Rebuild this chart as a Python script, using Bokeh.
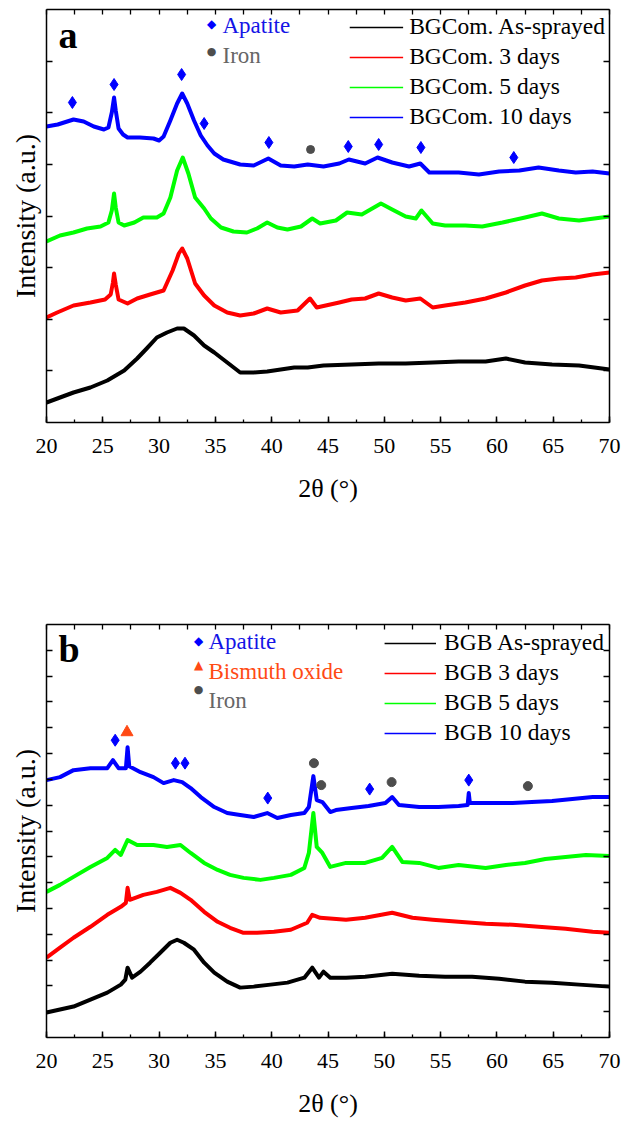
from bokeh.plotting import figure
from bokeh.models import (Range1d, LinearAxis, FixedTicker, SingleIntervalTicker,
                          Legend, LegendItem, Label)
from bokeh.layouts import column
from bokeh.embed import file_html
from bokeh.resources import INLINE

# ---------------- data (2theta in degrees, intensity in arbitrary units) ----------------
# Panel a : BGCom.
a0_x = [20.0, 21.2, 22.4, 23.9, 25.4, 26.9, 28.05, 28.9, 29.8, 30.7, 31.6, 32.2, 33.1, 34.0, 34.9,
        36.05, 37.2, 38.4, 39.6, 40.8, 42.0, 43.2, 44.6, 47.1, 49.5, 51.9, 54.3, 56.6, 59.0, 60.8,
        62.5, 64.9, 67.3, 70.0]
a0_y = [20, 25, 30, 35, 42, 52, 64, 74, 85, 90, 94, 94, 87, 77, 70,
        60, 50, 50, 51, 53, 55, 55, 57, 58, 59, 59, 60, 61, 61, 64,
        60, 58, 57, 53]

a3_x = [20.0, 20.95, 22.4, 23.9, 25.2, 25.7, 25.9, 26.0, 26.15, 26.4, 27.2, 28.05, 29.2, 30.4, 31.2,
        31.75, 32.05, 32.5, 33.2, 34.0, 34.9, 36.05, 37.2, 38.4, 39.6, 40.8, 42.3, 43.4, 44.0, 46.0,
        47.1, 48.3, 49.5, 50.7, 51.9, 53.2, 54.3, 55.4, 57.2, 59.0, 60.8, 62.5, 64.0, 65.5, 67.0,
        68.5, 70.0]
a3_y = [105, 110, 117, 120, 123, 128, 140, 149, 138, 123, 119, 124, 128, 132, 152,
        169, 174, 164, 139, 127, 117, 110, 107, 109, 114, 110, 112, 124, 115, 120,
        123, 124, 129, 125, 122, 124, 115, 117, 120, 124, 130, 137, 142, 144, 145,
        148, 150]

a5_x = [20.0, 21.2, 22.4, 23.6, 24.8, 25.5, 25.8, 26.0, 26.15, 26.4, 26.9, 27.8, 28.6, 29.8, 30.4,
        31.0, 31.6, 32.1, 32.6, 33.2, 34.0, 34.6, 35.5, 36.6, 37.8, 38.7, 39.6, 40.5, 41.4, 42.6,
        43.6, 44.3, 45.7, 46.7, 48.0, 49.7, 50.7, 51.9, 52.8, 53.3, 54.3, 55.4, 57.2, 58.7, 60.5,
        62.5, 64.0, 65.5, 67.3, 70.0]
a5_y = [181, 187, 190, 194, 196, 200, 212, 229, 215, 200, 197, 200, 205, 205, 209,
        225, 252, 265, 249, 225, 214, 204, 195, 191, 190, 194, 200, 195, 193, 196,
        204, 199, 202, 210, 208, 219, 213, 206, 204, 212, 199, 197, 197, 196, 200,
        205, 209, 204, 202, 206]

a10_x = [20.0, 21.0, 22.4, 23.3, 24.2, 25.1, 25.5, 25.8, 26.0, 26.15, 26.4, 26.8, 27.2, 28.3, 29.5,
         30.0, 30.4, 31.0, 31.6, 32.05, 32.5, 33.1, 33.7, 34.3, 34.9, 35.7, 37.2, 38.4, 39.7, 40.8,
         42.0, 43.2, 44.6, 46.0, 46.85, 48.3, 49.4, 50.7, 52.2, 53.2, 54.0, 55.1, 56.6, 58.4, 60.2,
         62.0, 63.7, 65.5, 67.0, 68.5, 70.0]
a10_y = [296, 298, 303, 301, 296, 293, 295, 310, 325, 312, 294, 288, 285, 285, 284,
         282, 286, 302, 319, 329, 319, 302, 287, 277, 269, 263, 258, 257, 264, 257,
         256, 258, 256, 259, 263, 259, 265, 260, 256, 259, 250, 250, 250, 248, 251,
         252, 255, 252, 250, 251, 249]

# phase markers, panel a
a_apatite_x = [22.3, 26.0, 32.0, 34.0, 39.75, 46.8, 49.5, 53.25, 61.5]
a_apatite_y = [320, 338, 348, 299, 280, 276, 278, 275, 265]
a_iron_x = [43.45]
a_iron_y = [273]

# Panel b : BGB
b0_x = [20.0, 21.2, 22.4, 23.9, 25.4, 26.6, 27.0, 27.2, 27.6, 28.35, 29.2, 30.1, 31.0, 31.6, 32.2,
        33.1, 34.0, 34.9, 36.05, 37.2, 38.4, 39.9, 41.4, 42.9, 43.6, 44.2, 44.6, 45.2, 46.6, 48.3,
        50.7, 53.1, 55.4, 57.8, 60.2, 62.5, 64.9, 67.3, 70.0]
b0_y = [25, 28, 31, 38, 45, 53, 58, 70, 60, 66, 75, 85, 95, 98, 95,
        88, 75, 65, 56, 50, 51, 53, 55, 60, 70, 60, 66, 60, 60, 61,
        64, 62, 61, 61, 59, 56, 55, 53, 51]

b3_x = [20.0, 21.2, 22.4, 23.9, 25.4, 26.6, 27.05, 27.2, 27.4, 28.6, 29.8, 31.0, 31.9, 32.8, 34.0,
        35.2, 36.3, 37.5, 38.7, 40.2, 41.7, 43.15, 43.6, 44.3, 46.6, 48.3, 50.7, 52.5, 54.3, 56.6,
        59.0, 61.4, 63.7, 66.1, 68.5, 70.0]
b3_y = [80, 90, 100, 111, 123, 131, 135, 150, 138, 143, 146, 150, 145, 138, 126,
        116, 110, 105, 105, 106, 108, 115, 123, 120, 118, 120, 125, 120, 118, 116,
        114, 113, 111, 109, 106, 105]

b5_x = [20.0, 21.2, 22.4, 23.9, 25.4, 26.1, 26.6, 27.2, 28.05, 29.5, 30.7, 31.9, 32.8, 34.0, 35.2,
        36.3, 37.5, 39.0, 40.2, 41.7, 42.9, 43.3, 43.7, 44.0, 44.5, 45.2, 46.6, 48.3, 49.8, 50.7,
        51.6, 53.1, 54.8, 56.6, 59.0, 60.8, 62.5, 64.3, 66.1, 67.9, 70.0]
b5_y = [146, 153, 161, 171, 180, 188, 183, 198, 193, 193, 191, 193, 185, 175, 168,
        163, 160, 158, 160, 163, 170, 185, 225, 191, 185, 171, 175, 175, 180, 191,
        176, 175, 170, 173, 170, 173, 175, 179, 181, 183, 182]

b10_x = [20.0, 21.2, 22.4, 23.9, 25.4, 25.9, 26.4, 27.05, 27.2, 27.35, 28.35, 29.5, 30.4, 31.3, 32.05,
         32.8, 33.7, 34.9, 36.05, 37.2, 38.4, 39.6, 40.5, 41.7, 42.9, 43.3, 43.7, 44.0, 44.5, 45.2,
         45.7, 47.1, 48.6, 50.1, 50.7, 51.3, 53.1, 54.8, 56.6, 57.4, 57.5, 57.6, 59.6, 61.4, 63.1,
         64.9, 66.7, 68.5, 70.0]
b10_y = [258, 261, 268, 270, 270, 278, 270, 270, 291, 272, 266, 261, 255, 258, 256,
         250, 241, 231, 225, 223, 221, 225, 220, 223, 225, 231, 262, 238, 236, 226,
         228, 230, 232, 235, 241, 233, 231, 231, 232, 233, 245, 235, 235, 235, 236,
         237, 239, 241, 241]

# phase markers, panel b
b_apatite_x = [26.1, 31.45, 32.3, 39.65, 48.7, 57.5]
b_apatite_y = [298, 275, 275, 240, 249, 258]
b_bismuth_x = [27.15]
b_bismuth_y = [306]
b_iron_x = [43.75, 44.4, 50.65, 62.75]
b_iron_y = [275, 253, 256, 252]

labels_a = ["BGCom. As-sprayed", "BGCom. 3 days", "BGCom. 5 days", "BGCom. 10 days"]
labels_b = ["BGB As-sprayed", "BGB 3 days", "BGB 5 days", "BGB 10 days"]

# ---------------- styling ----------------
FONT = "Liberation Serif"
COLORS = ["#000000", "#ff0000", "#00ff00", "#0000ff"]
APT = "#0000ff"
APT_TXT = "#1414e6"
IRON_C = "#4d4d4d"
IRON_T = "#666666"
BIS = "#ff4a14"
LW = 4


def base_axis(ax):
    ax.axis_line_width = 1.5
    ax.axis_line_color = "black"
    ax.major_tick_line_width = 1.5
    ax.minor_tick_line_width = 1.3
    ax.major_tick_in = 6
    ax.major_tick_out = 0
    ax.minor_tick_out = 0
    ax.major_label_standoff = 0


def make_panel(height, ymax, nyt, btop, bbot, series, labels, glyph_w, standoff, margin):
    p = figure(width=622, height=height, x_range=Range1d(20, 70), y_range=Range1d(0, ymax),
               output_backend="svg", toolbar_location=None,
               x_axis_location=None, y_axis_location=None,
               min_border_left=46, min_border_right=13,
               min_border_top=btop, min_border_bottom=bbot)
    p.grid.visible = False
    p.outline_line_color = None
    p.background_fill_color = "white"
    p.border_fill_color = "white"

    xt = SingleIntervalTicker(interval=5, num_minor_ticks=2)
    x_all = FixedTicker(ticks=[], minor_ticks=[20 + 2.5 * i for i in range(21)])
    y_all = FixedTicker(ticks=[], minor_ticks=[ymax * i / nyt for i in range(1, nyt)])

    bottom = LinearAxis(ticker=xt, axis_label="2θ (°)")
    base_axis(bottom)
    bottom.minor_tick_in = 3
    bottom.major_label_text_font = FONT
    bottom.major_label_text_font_size = "22px"
    bottom.major_label_text_color = "black"
    bottom.major_label_standoff = 16
    bottom.axis_label_text_font = FONT
    bottom.axis_label_text_font_size = "26px"
    bottom.axis_label_text_font_style = "normal"
    bottom.axis_label_text_color = "black"
    bottom.axis_label_standoff = 18
    p.add_layout(bottom, "below")

    top = LinearAxis(ticker=x_all)
    base_axis(top)
    top.minor_tick_in = 5
    p.add_layout(top, "above")

    left = LinearAxis(ticker=y_all, axis_label="Intensity (a.u.)")
    base_axis(left)
    left.minor_tick_in = 6
    left.minor_tick_line_width = 1.5
    left.axis_label_text_font = FONT
    left.axis_label_text_font_size = "28px"
    left.axis_label_text_font_style = "normal"
    left.axis_label_text_color = "black"
    left.axis_label_standoff = 6
    p.add_layout(left, "left")

    right = LinearAxis(ticker=y_all)
    base_axis(right)
    right.minor_tick_in = 6
    right.minor_tick_line_width = 1.5
    p.add_layout(right, "right")

    items = []
    for (xs, ys), col, lab in zip(series, COLORS, labels):
        p.line(xs, ys, line_color=col, line_width=LW, line_join="round")
        thin = p.line(xs, ys, line_color=col, line_width=1.6, line_join="round")
        items.append(LegendItem(label=lab, renderers=[thin]))
    leg = Legend(items=items, location="top_right",
                 label_text_font=FONT, label_text_font_size="23.5px", label_text_color="black",
                 glyph_width=glyph_w, glyph_height=20, label_height=20, label_standoff=standoff,
                 spacing=3, padding=0, margin=margin,
                 border_line_color=None, background_fill_alpha=0)
    p.add_layout(leg)
    return p


def key(p, x, y, sym, size, color):
    p.add_layout(Label(x=x, y=y, x_units="screen", y_units="screen", text=sym,
                       text_font="DejaVu Sans", text_font_size=size, text_color=color,
                       text_align="center", text_baseline="middle"))


def txt(p, x, y, s, color, size="23px", style="normal"):
    p.add_layout(Label(x=x, y=y, x_units="screen", y_units="screen", text=s,
                       text_font=FONT, text_font_size=size, text_color=color,
                       text_font_style=style, text_align="left", text_baseline="middle"))


# ---------------- panel a ----------------
pa = make_panel(560, 413, 8, 9, 138,
                [(a0_x, a0_y), (a3_x, a3_y), (a5_x, a5_y), (a10_x, a10_y)],
                labels_a, 54, 6, 4)
pa.scatter(a_apatite_x, a_apatite_y, marker="diamond", size=12, color=APT)
pa.scatter(a_iron_x, a_iron_y, marker="circle", size=8, color=IRON_C)
txt(pa, 12, 388, "a", "black", "38px", "bold")
key(pa, 165, 399, "◆", "12px", APT)
txt(pa, 176, 397, "Apatite", APT_TXT)
key(pa, 165, 371, "●", "11px", IRON_C)
txt(pa, 176, 367, "Iron", IRON_T)

# ---------------- panel b ----------------
pb = make_panel(560, 414, 16, 64, 82,
                [(b0_x, b0_y), (b3_x, b3_y), (b5_x, b5_y), (b10_x, b10_y)],
                labels_b, 52, 8, 5)
pb.scatter(b_apatite_x, b_apatite_y, marker="diamond", size=12, color=APT)
pb.scatter(b_bismuth_x, b_bismuth_y, marker="triangle", size=12, color=BIS)
pb.scatter(b_iron_x, b_iron_y, marker="circle", size=9, color=IRON_C)
txt(pb, 12, 389, "b", "black", "38px", "bold")
key(pb, 152, 397, "◆", "12px", APT)
txt(pb, 162, 396, "Apatite", APT_TXT)
key(pb, 152, 373, "▲", "12px", BIS)
txt(pb, 162, 366, "Bismuth oxide", BIS)
key(pb, 152, 348, "●", "11px", IRON_C)
txt(pb, 162, 337, "Iron", IRON_T)

layout = column(pa, pb)
open("out.html", "w").write(file_html(layout, INLINE))
